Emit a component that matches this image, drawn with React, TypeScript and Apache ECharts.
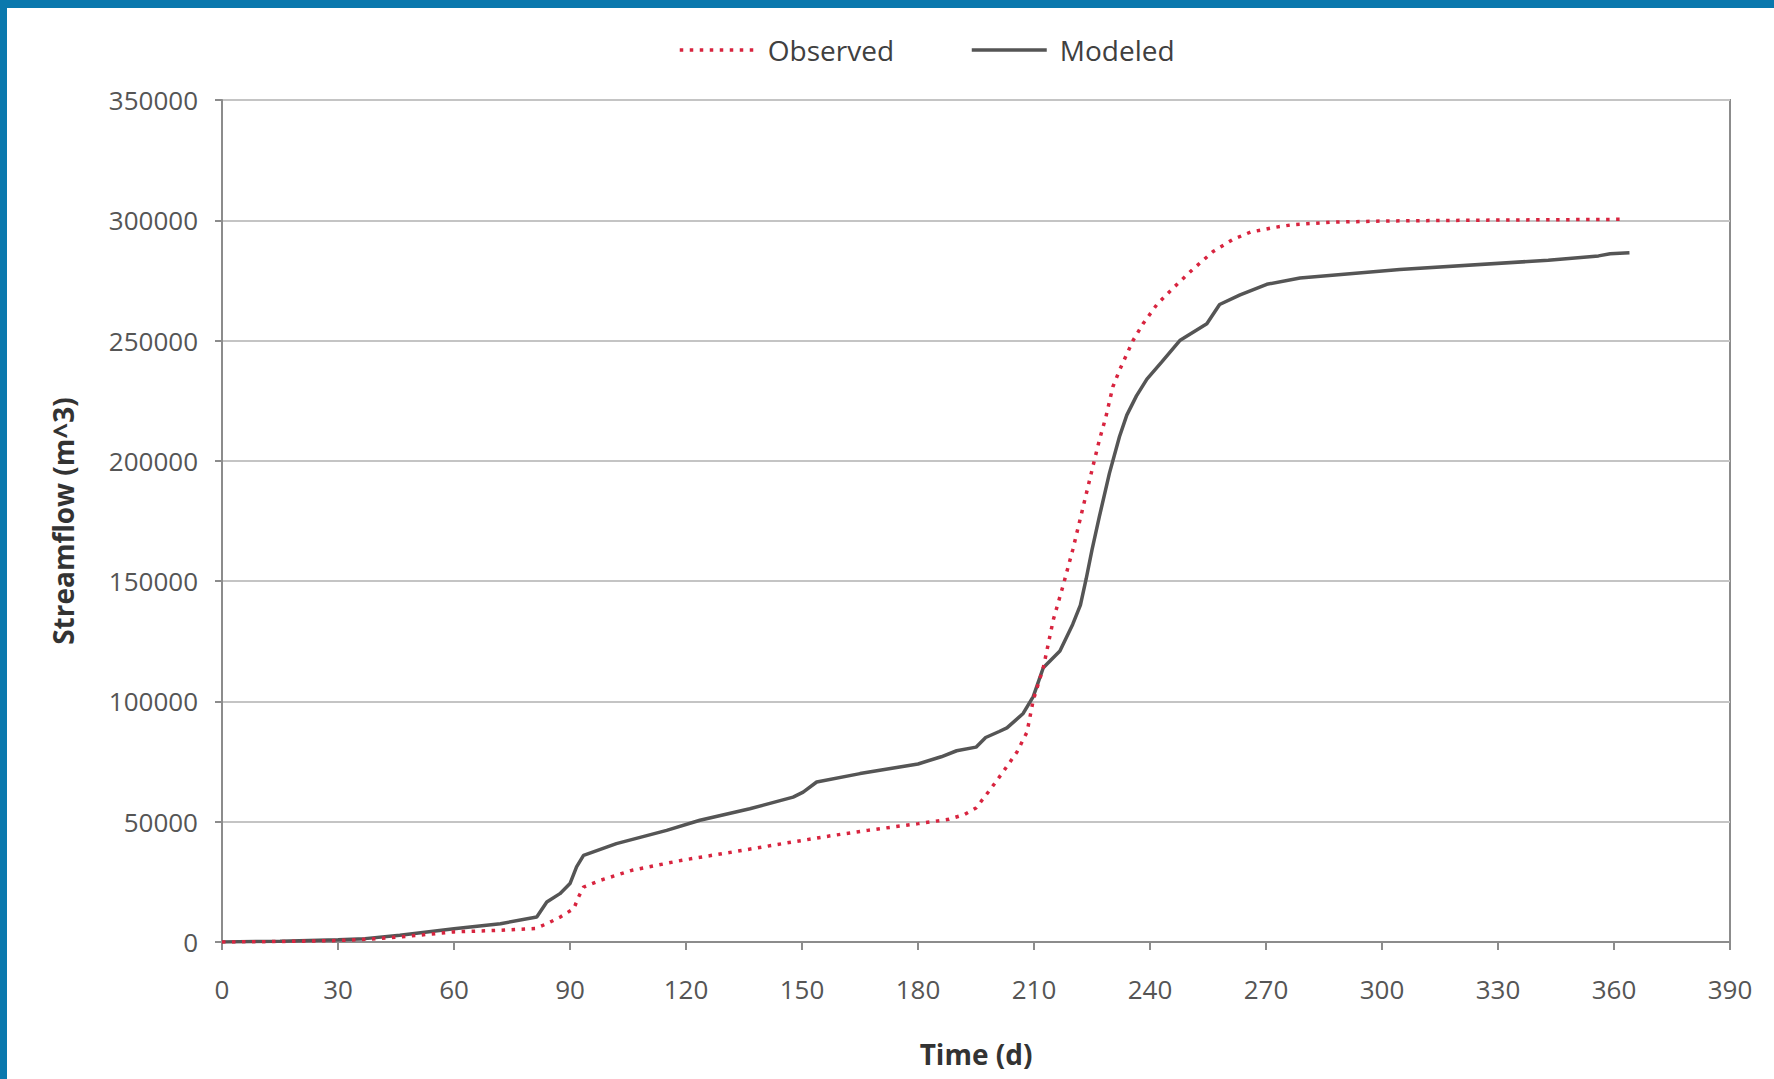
import React, { useEffect, useRef } from "react";
import * as echarts from "echarts";

// Observed streamflow (days, cumulative m^3)
const obsDays = [0, 15, 30, 38, 46, 60, 72, 81, 84, 87.5, 91, 92.2, 93.5, 97.8, 106, 119, 132, 145, 158, 167, 180, 188, 192, 195, 198.6, 202, 205.6, 208.2, 209.8, 212.4, 215, 217.5, 220, 222.5, 225.2, 226.9, 228.6, 230.4, 232.2, 235.6, 238.2, 241.8, 245.9, 251, 256.3, 261.4, 266, 272, 277, 287, 300, 330, 362];
const obsValues = [0, 200, 600, 1200, 2100, 4200, 4900, 5600, 7600, 10400, 13900, 18700, 22800, 25600, 29800, 34000, 37400, 40900, 44300, 46400, 49200, 51000, 53000, 55700, 63200, 70700, 79000, 87300, 100500, 114000, 134000, 148000, 162900, 179500, 197500, 208600, 218300, 230800, 238000, 250000, 257000, 265000, 271700, 279500, 287000, 292000, 295100, 297000, 298200, 299200, 299700, 300100, 300400];

// Modeled streamflow (days, cumulative m^3)
const modDays = [0, 15, 30, 37, 46, 60, 72, 81.4, 84, 87.4, 90, 91.7, 93.5, 102, 115, 123.6, 136.5, 147.7, 150.3, 153.8, 165, 180, 186, 190, 195, 197.5, 201, 203, 207.2, 209.8, 212.4, 216.7, 220, 222, 223.5, 225, 226.9, 229.5, 232.1, 234, 236.5, 239.2, 243, 247.7, 254.7, 258, 263.3, 270.2, 278.8, 304.6, 343, 356, 359, 364];
const modValues = [0, 300, 900, 1400, 2800, 5500, 7600, 10400, 16600, 20100, 24300, 31200, 36000, 40900, 46400, 50600, 55400, 60200, 62300, 66500, 70000, 74000, 77000, 79500, 81000, 85000, 87500, 89000, 95000, 102000, 114000, 121000, 132000, 140000, 151000, 163000, 176800, 194800, 210000, 219000, 227000, 234000, 241000, 250000, 257000, 265000, 269000, 273400, 276000, 279500, 283400, 285200, 286100, 286500];

const seriesNames = ["Observed", "Modeled"];
const xAxisTitle = "Time (d)";
const yAxisTitle = "Streamflow (m^3)";

const FONT = "'Open Sans', 'Noto Sans', sans-serif";

export default function App() {
  const ref = useRef<HTMLDivElement>(null);

  useEffect(() => {
    if (!ref.current) return;
    const chart = echarts.init(ref.current, null, { renderer: "svg" });
    const obs = obsDays.map((d, i) => [d, obsValues[i]]);
    const mod = modDays.map((d, i) => [d, modValues[i]]);
    chart.setOption({
      animation: false,
      backgroundColor: "#ffffff",
      textStyle: { fontFamily: FONT },
      graphic: [
        { type: "rect", left: 0, top: 0, shape: { width: 1774, height: 8 }, style: { fill: "#0a78ad" }, z: 100 },
        { type: "rect", left: 0, top: 0, shape: { width: 7, height: 1079 }, style: { fill: "#0a78ad" }, z: 100 },
      ],
      legend: {
        left: 673,
        top: 31,
        itemWidth: 75,
        itemHeight: 14,
        itemGap: 76,
        itemStyle: { opacity: 0 },
        lineStyle: { width: 3.5 },
        textStyle: { fontSize: 28, color: "#404040", fontFamily: FONT, padding: [0, 0, 0, 8] },
        data: seriesNames,
      },
      grid: {
        left: 222,
        right: 44,
        top: 100,
        bottom: 137,
        show: true,
        borderColor: "#8c8c8c",
        borderWidth: 2,
        containLabel: false,
      },
      xAxis: {
        type: "value",
        min: 0,
        max: 390,
        interval: 30,
        name: xAxisTitle,
        nameLocation: "middle",
        nameGap: 98,
        nameTextStyle: { fontSize: 28, fontWeight: "bold", color: "#333", fontFamily: FONT },
        axisLine: { show: true, onZero: false, lineStyle: { color: "#8c8c8c", width: 2 } },
        axisTick: { show: true, length: 8, lineStyle: { color: "#8c8c8c", width: 2 } },
        axisLabel: { fontSize: 26, color: "#555", margin: 34, fontFamily: FONT },
        splitLine: { show: false },
      },
      yAxis: {
        type: "value",
        min: 0,
        max: 350000,
        interval: 50000,
        name: yAxisTitle,
        nameLocation: "middle",
        nameRotate: 90,
        nameGap: 145,
        nameTextStyle: { fontSize: 28, fontWeight: "bold", color: "#333", fontFamily: FONT },
        axisLine: { show: true, lineStyle: { color: "#8c8c8c", width: 2 } },
        axisTick: { show: true, length: 7, lineStyle: { color: "#8c8c8c", width: 2 } },
        axisLabel: { fontSize: 26, color: "#555", margin: 24, fontFamily: FONT, formatter: (v: number) => String(v) },
        splitLine: { show: true, lineStyle: { color: "#c4c4c4", width: 2 } },
      },
      series: [
        {
          name: seriesNames[0],
          type: "line",
          data: obs,
          symbol: "none",
          showSymbol: false,
          smooth: false,
          lineStyle: { color: "#d8243f", width: 3.5, type: [3.5, 6.5], cap: "butt" },
          itemStyle: { color: "#d8243f" },
          z: 3,
        },
        {
          name: seriesNames[1],
          type: "line",
          data: mod,
          symbol: "none",
          showSymbol: false,
          smooth: false,
          lineStyle: { color: "#555555", width: 3.5 },
          itemStyle: { color: "#555555" },
          z: 2,
        },
      ],
    });
    return () => chart.dispose();
  }, []);

  return (
    <div
      ref={ref}
      style={{ position: "fixed", left: 0, top: 0, width: 1774, height: 1079 }}
    />
  );
}
